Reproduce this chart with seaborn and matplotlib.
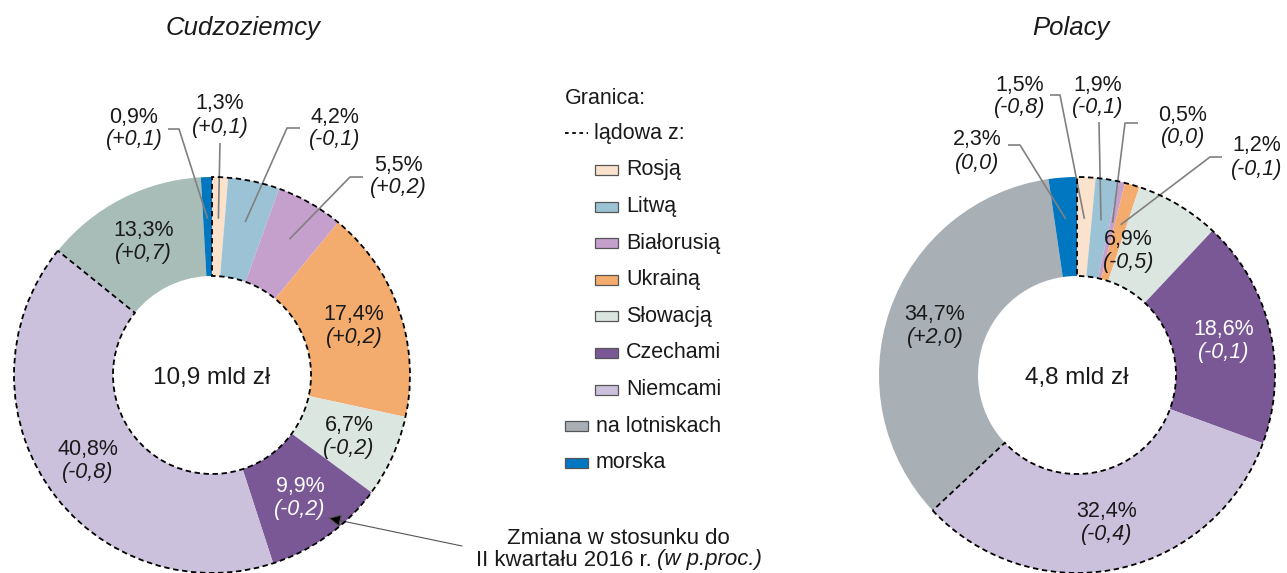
import matplotlib
matplotlib.use("Agg")
import numpy as np
import matplotlib.pyplot as plt
import seaborn as sns
from matplotlib.patches import Wedge, Rectangle

# --- data -------------------------------------------------------------
segments = ["Rosją", "Litwą", "Białorusią", "Ukrainą", "Słowacją",
            "Czechami", "Niemcami", "na lotniskach", "morska"]
n_land = 7  # first seven segments are land borders

foreign_share = [1.3, 4.2, 5.5, 17.4, 6.7, 9.9, 40.8, 13.3, 0.9]
foreign_change = [0.1, -0.1, 0.2, 0.2, -0.2, -0.2, -0.8, 0.7, 0.1]
foreign_total = "10,9 mld zł"

polish_share = [1.5, 1.9, 0.5, 1.2, 6.9, 18.6, 32.4, 34.7, 2.3]
polish_change = [-0.8, -0.1, 0.0, -0.1, -0.5, -0.1, -0.4, 2.0, 0.0]
polish_total = "4,8 mld zł"

land_colors = ["#FBE2CC", "#9CC3D5", "#C6A0CC", "#F4AC6E",
               "#DCE6E0", "#7A5896", "#CBC1DC"]
air_left, air_right, sea = "#A9BDB8", "#A8AFB5", "#0077C0"

# --- style ------------------------------------------------------------
sns.set_theme(style="white")
plt.rcParams['font.family'] = ['Liberation Sans', 'DejaVu Sans']

W, H = 1287, 573
R = 198
TXT = "#1a1a1a"
LEAD = "#808080"
FS = 15.5


def Y(y):
    # pixel row from top -> data y
    return H - y


def fmt_val(v):
    return f"{v:.1f}%".replace('.', ',')


def fmt_chg(v):
    if v == 0:
        return "(0,0)"
    return f"({v:+.1f})".replace('.', ',')


def two_lines(ax, x, y, v, c, color=TXT):
    ax.text(x, Y(y - 11), fmt_val(v), ha='center', va='center', fontsize=FS, color=color)
    ax.text(x, Y(y + 12), fmt_chg(c), ha='center', va='center', fontsize=FS,
            color=color, style='italic')


def donut(ax, cx, cy, shares, changes, colors, total, outside, shift):
    palette = sns.color_palette(colors)
    wedges, _ = ax.pie(shares, colors=palette, startangle=90, counterclock=False,
                       radius=R, center=(cx, Y(cy)),
                       wedgeprops=dict(width=R * 0.5, linewidth=0))
    land_total = sum(shares[:n_land])
    ax.add_patch(Wedge((cx, Y(cy)), R, 90 - 3.6 * land_total, 90, width=R * 0.5,
                       fill=False, ec='black', lw=1.3, ls=(0, (3, 2)), zorder=5))
    ax.text(cx, Y(cy + 3), total, ha='center', va='center', fontsize=17.5, color=TXT)

    for i, w in enumerate(wedges):
        mid = np.deg2rad((w.theta1 + w.theta2) / 2)
        if i in outside:
            tx, ty, path = outside[i]
            ex = cx + 0.79 * R * np.cos(mid)
            ey = Y(cy) + 0.79 * R * np.sin(mid)
            xs = [p[0] for p in path] + [ex]
            ys = [Y(p[1]) for p in path] + [ey]
            ax.plot(xs, ys, color=LEAD, lw=1.2, solid_capstyle='butt')
            two_lines(ax, tx, ty, shares[i], changes[i])
        else:
            da, rf = shift.get(i, (0, 0.76))
            a = mid + np.deg2rad(da)
            lx = cx + rf * R * np.cos(a)
            ly = cy - rf * R * np.sin(a)
            col = "white" if i == 5 else TXT
            two_lines(ax, lx, ly, shares[i], changes[i], col)


fig = plt.figure(figsize=(12.87, 5.73), dpi=100)
ax = fig.add_axes([0, 0, 1, 1])

# label layout: index -> (text x, text y, leader points in pixels)
left_out = {
    8: (134, 128, [(168, 129), (179, 129)]),
    0: (220, 115, [(220, 143)]),
    1: (335, 128, [(300, 128), (287, 128)]),
    2: (398, 176, [(363, 177), (350, 177)]),
}
right_out = {
    8: (977, 151, [(1008, 145), (1020, 145)]),
    0: (1020, 96, [(1050, 95), (1060, 95)]),
    1: (1098, 96, [(1099, 122)]),
    2: (1183, 126, [(1138, 123), (1125, 123)]),
    3: (1257, 157, [(1222, 157), (1210, 157)]),
}

donut(ax, 212, 375, foreign_share, foreign_change, land_colors + [air_left, sea],
      foreign_total, left_out, {})
donut(ax, 1077, 375, polish_share, polish_change, land_colors + [air_right, sea],
      polish_total, right_out, {4: (8.4, 0.68)})

ax.text(243, Y(28), "Cudzoziemcy", ha='center', va='center', fontsize=18.5,
        style='italic', color=TXT)
ax.text(1071, Y(28), "Polacy", ha='center', va='center', fontsize=18.5,
        style='italic', color=TXT)

# legend
LFS = 15.5
ax.text(565, Y(98), "Granica:", ha='left', va='center', fontsize=LFS, color=TXT)
ax.plot([565, 588], [Y(133), Y(133)], color='black', lw=1.3, ls=(0, (2, 2)))
ax.text(594, Y(133), "lądowa z:", ha='left', va='center', fontsize=LFS, color=TXT)
leg_colors = land_colors + [air_right, sea]
for i, name in enumerate(segments):
    yc = 170 + i * 36.6
    x0 = 595 if i < n_land else 565
    ax.add_patch(Rectangle((x0, Y(yc) - 5), 23, 10, fc=leg_colors[i],
                           ec='#555555', lw=0.9))
    ax.text(x0 + 31, Y(yc), name, ha='left', va='center', fontsize=LFS, color=TXT)

# change note
ax.annotate('', xy=(328, Y(518)), xytext=(462, Y(546)),
            arrowprops=dict(arrowstyle='-|>', color='#555555', fc='black',
                            lw=0.8, mutation_scale=20, shrinkA=0, shrinkB=0))
ax.text(618, Y(538), "Zmiana w stosunku do", ha='center', va='center',
        fontsize=16, color=TXT)
ax.text(652, Y(560), "II kwartału 2016 r.", ha='right', va='center',
        fontsize=16, color=TXT)
ax.text(657, Y(560), "(w p.proc.)", ha='left', va='center',
        fontsize=16, color=TXT, style='italic')

ax.set_xlim(0, W)
ax.set_ylim(0, H)
ax.set_aspect('equal')
ax.axis('off')

fig.savefig("out.png", dpi=100)
